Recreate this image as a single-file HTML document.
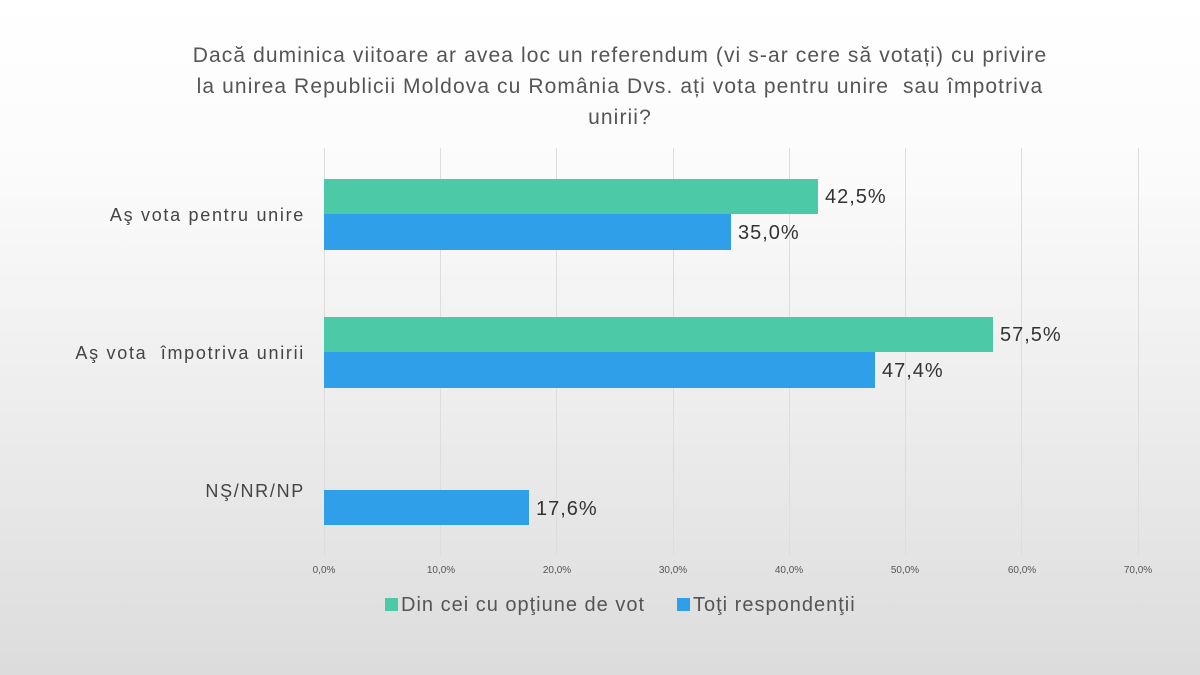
<!DOCTYPE html>
<html><head><meta charset="utf-8"><style>
body{margin:0;width:1200px;height:675px;overflow:hidden;background:linear-gradient(#fff 0%,#fbfbfb 25%,#e9e9e9 70%,#dcdcdc 100%);font-family:"Liberation Sans",sans-serif;position:relative}
.t{position:absolute;left:60px;width:1120px;top:40px;text-align:center;font-size:21px;line-height:31px;color:#555;white-space:nowrap;letter-spacing:1.1px}
.g{position:absolute;top:148px;height:408px;width:1px;background:#ddd}
.b{position:absolute;left:324px}
.gr{background:#4ccaa8}.bl{background:#2e9fe8}
.v{position:absolute;font-size:20px;color:#333;letter-spacing:1px}
.c{position:absolute;right:895px;font-size:18px;color:#444;text-align:right;white-space:nowrap;letter-spacing:1.7px}
.k{position:absolute;top:565px;font-size:10px;color:#555;transform:translateX(-50%)}
.lg{position:absolute;top:594px;font-size:20px;color:#555;letter-spacing:1px;white-space:nowrap}
.sq{display:inline-block;width:13px;height:13px;margin-right:3px}
</style></head><body>
<div class="t">Dacă duminica viitoare ar avea loc un referendum (vi s-ar cere să votați) cu privire<br>la unirea Republicii Moldova cu România Dvs. ați vota pentru unire&nbsp; sau împotriva<br>unirii?</div>
<div class="g" style="left:324px"></div><div class="g" style="left:440px"></div><div class="g" style="left:556px"></div><div class="g" style="left:673px"></div><div class="g" style="left:789px"></div><div class="g" style="left:905px"></div><div class="g" style="left:1021px"></div><div class="g" style="left:1138px"></div>
<div class="b gr" style="top:179px;height:35px;width:494px"></div>
<div class="b bl" style="top:214px;height:36px;width:407px"></div>
<div class="b gr" style="top:317px;height:35px;width:669px"></div>
<div class="b bl" style="top:352px;height:36px;width:551px"></div>
<div class="b bl" style="top:490px;height:35px;width:205px"></div>
<div class="v" style="left:825px;top:186px">42,5%</div>
<div class="v" style="left:738px;top:222px">35,0%</div>
<div class="v" style="left:1000px;top:324px">57,5%</div>
<div class="v" style="left:882px;top:360px">47,4%</div>
<div class="v" style="left:536px;top:498px">17,6%</div>
<div class="c" style="top:205px">Aş vota pentru unire</div>
<div class="c" style="top:343px">Aş vota&nbsp; împotriva unirii</div>
<div class="c" style="top:481px">NŞ/NR/NP</div>
<div class="k" style="left:324px">0,0%</div><div class="k" style="left:441px">10,0%</div><div class="k" style="left:557px">20,0%</div><div class="k" style="left:673px">30,0%</div><div class="k" style="left:789px">40,0%</div><div class="k" style="left:905px">50,0%</div><div class="k" style="left:1022px">60,0%</div><div class="k" style="left:1138px">70,0%</div>
<div class="lg" style="left:385px"><span class="sq gr"></span>Din cei cu opţiune de vot</div>
<div class="lg" style="left:677px"><span class="sq bl"></span>Toţi respondenţii</div>
</body></html>
